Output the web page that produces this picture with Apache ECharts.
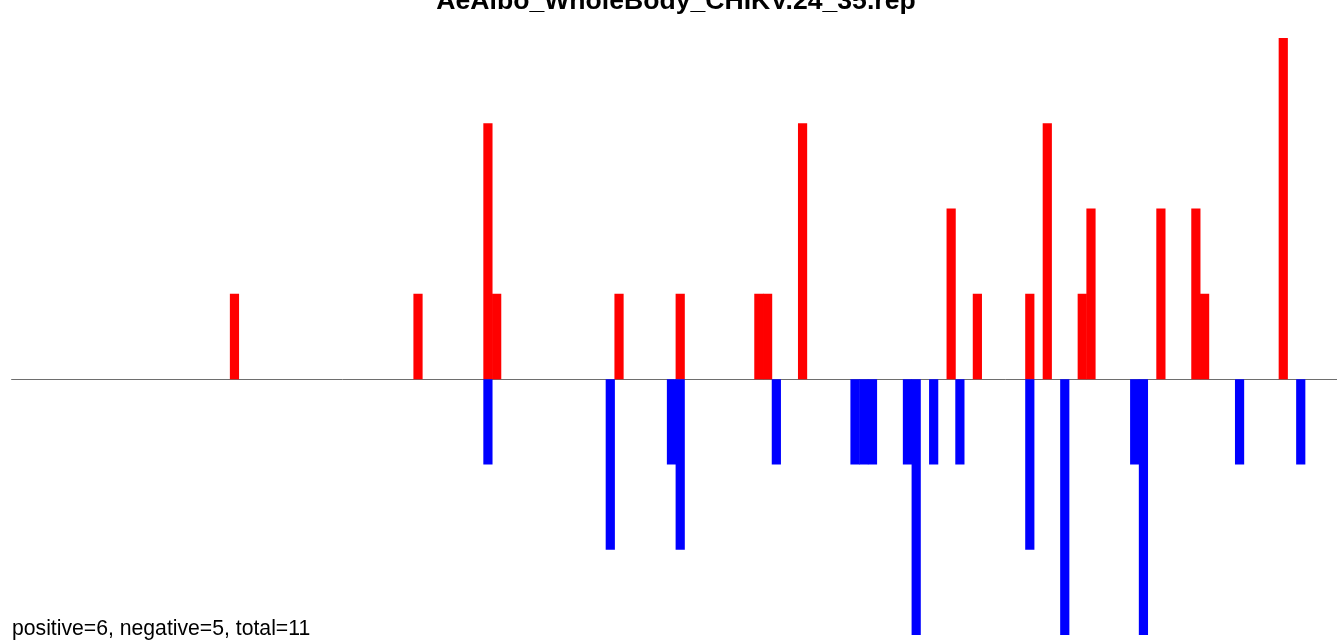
<!DOCTYPE html>
<html>
<head>
<meta charset="utf-8">
<script src="https://cdn.jsdelivr.net/npm/echarts@6/dist/echarts.min.js"></script>
<style>html,body{margin:0;padding:0;background:#fff;}#c{width:1337px;height:641px;}</style>
</head>
<body>
<div id="c"></div>
<script>
// Chart data
const chartTitle = 'AeAlbo_WholeBody_CHIKV.24_35.rep';
const footerText = 'positive=6, negative=5, total=11';
const posBins = [25, 46, 54, 55, 69, 76, 85, 86, 90, 107, 110, 116, 118, 122, 123, 131, 135, 136, 145];
const posVals = [1, 1, 3, 1, 1, 1, 1, 1, 3, 2, 1, 1, 3, 1, 2, 2, 2, 1, 4];
const negBins = [54, 68, 75, 76, 87, 96, 97, 98, 102, 103, 105, 108, 116, 120, 128, 129, 140, 147];
const negVals = [-1, -2, -1, -2, -1, -1, -1, -1, -1, -3, -1, -1, -2, -3, -1, -3, -1, -1];

const binPx = 8.74;
const plotLeft = 11.6;
const plotWidth = 1337 - plotLeft;
const xMax = plotWidth / binPx;

const posData = posBins.map((b, i) => [b + 0.5, posVals[i]]);
const negData = negBins.map((b, i) => [b + 0.5, negVals[i]]);

const chart = echarts.init(document.getElementById('c'), null, {renderer: 'canvas'});
chart.setOption({
  animation: false,
  backgroundColor: '#ffffff',
  grid: {left: plotLeft, top: 38, width: plotWidth, height: 597, containLabel: false},
  xAxis: {
    type: 'value', min: 0, max: xMax,
    axisLine: {show: true, onZero: true, lineStyle: {color: '#6e6e6e', width: 1}},
    axisTick: {show: false}, axisLabel: {show: false}, splitLine: {show: false}
  },
  yAxis: {
    type: 'value', min: -3, max: 4, interval: 1, show: false,
    splitLine: {show: false}
  },
  series: [
    {type: 'bar', data: posData, barWidth: 9.2, barGap: '-100%',
     itemStyle: {color: '#ff0000'}, z: 3},
    {type: 'bar', data: negData, barWidth: 9.2, barGap: '-100%',
     itemStyle: {color: '#0000ff'}, z: 3}
  ],
  graphic: [
    {type: 'text', x: 676, y: 15, style: {text: chartTitle, fill: '#000', font: 'bold 26.6px "Liberation Sans", Arial, sans-serif', textAlign: 'center', textVerticalAlign: 'bottom'}},
    {type: 'text', x: 12, y: 640, style: {text: footerText, fill: '#000', font: '21.2px "Liberation Sans", Arial, sans-serif', textAlign: 'left', textVerticalAlign: 'bottom'}}
  ]
});
</script>
</body>
</html>
